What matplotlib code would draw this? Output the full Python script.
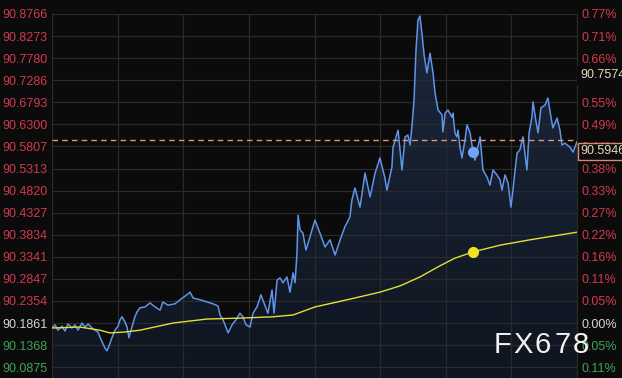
import matplotlib
matplotlib.use('Agg')
import matplotlib.pyplot as plt
import numpy as np
from matplotlib.patches import Polygon
from matplotlib.colors import LinearSegmentedColormap

plt.rcParams['font.family'] = ['Liberation Sans', 'DejaVu Sans']

# ---- data (hours since session start, price) ----
times = [0.00, 0.14, 0.27, 0.46, 0.59, 0.73, 0.91, 1.05, 1.19, 1.37, 1.51, 1.65, 1.83, 1.97,
         2.10, 2.19, 2.29, 2.42, 2.51, 2.61, 2.70, 2.79, 2.88, 3.02, 3.11, 3.20, 3.34, 3.43,
         3.52, 3.61, 3.79, 3.89, 4.02, 4.25, 4.48, 4.71, 4.94, 5.07, 5.30, 5.62, 5.85, 6.08,
         6.31, 6.45, 6.77, 7.09, 7.36, 7.59, 7.68, 7.82, 7.95, 8.05, 8.23, 8.41, 8.59, 8.73,
         8.87, 9.05, 9.19, 9.37, 9.55, 9.69, 9.87, 10.06, 10.15, 10.29, 10.42, 10.56, 10.74,
         10.88, 11.02, 11.11, 11.20, 11.25, 11.34, 11.47, 11.61, 11.79, 12.02, 12.25, 12.48,
         12.71, 12.94, 13.17, 13.39, 13.62, 13.71, 13.85, 14.08, 14.31, 14.54, 14.77, 14.99,
         15.22, 15.31, 15.54, 15.59, 15.82, 15.91, 16.00, 16.14, 16.27, 16.37, 16.46, 16.55,
         16.64, 16.73, 16.82, 16.91, 17.01, 17.14, 17.28, 17.42, 17.51, 17.65, 17.83, 17.87,
         17.97, 18.10, 18.29, 18.33, 18.42, 18.51, 18.56, 18.65, 18.74, 18.88, 18.97, 19.11,
         19.25, 19.34, 19.47, 19.57, 19.70, 19.89, 20.02, 20.16, 20.34, 20.48, 20.57, 20.71,
         20.85, 20.98, 21.07, 21.17, 21.26, 21.39, 21.53, 21.62, 21.71, 21.81, 21.94, 21.99,
         22.13, 22.22, 22.35, 22.54, 22.67, 22.81, 22.90, 23.09, 23.22, 23.31, 23.45, 23.68,
         23.82, 24.00]
prices = [90.175, 90.182, 90.170, 90.179, 90.168, 90.184, 90.175, 90.182, 90.170, 90.186,
          90.177, 90.184, 90.175, 90.170, 90.166, 90.155, 90.144, 90.130, 90.124, 90.135,
          90.148, 90.159, 90.170, 90.179, 90.193, 90.200, 90.188, 90.177, 90.153, 90.170,
          90.200, 90.211, 90.220, 90.222, 90.231, 90.222, 90.215, 90.233, 90.226, 90.229,
          90.238, 90.246, 90.255, 90.242, 90.238, 90.233, 90.229, 90.224, 90.204, 90.193,
          90.177, 90.164, 90.182, 90.193, 90.208, 90.200, 90.182, 90.177, 90.208, 90.222,
          90.249, 90.231, 90.208, 90.260, 90.208, 90.282, 90.287, 90.276, 90.289, 90.255,
          90.298, 90.276, 90.343, 90.427, 90.394, 90.387, 90.349, 90.378, 90.416, 90.387,
          90.356, 90.372, 90.338, 90.372, 90.401, 90.423, 90.461, 90.488, 90.445, 90.521,
          90.468, 90.521, 90.555, 90.510, 90.483, 90.535, 90.579, 90.617, 90.573, 90.528,
          90.602, 90.606, 90.584, 90.629, 90.684, 90.796, 90.863, 90.872, 90.834, 90.785,
          90.745, 90.789, 90.745, 90.700, 90.662, 90.651, 90.613, 90.655, 90.662, 90.646,
          90.655, 90.611, 90.602, 90.617, 90.579, 90.555, 90.595, 90.629, 90.611, 90.568,
          90.550, 90.579, 90.602, 90.528, 90.512, 90.494, 90.528, 90.517, 90.506, 90.483,
          90.517, 90.499, 90.445, 90.483, 90.528, 90.566, 90.573, 90.602, 90.566, 90.528,
          90.611, 90.646, 90.680, 90.635, 90.611, 90.667, 90.673, 90.689, 90.646, 90.622,
          90.644, 90.617, 90.584, 90.588, 90.579, 90.568, 90.591]

ma_times = [0.00, 1.28, 2.19, 2.65, 3.34, 4.02, 5.53, 7.09, 8.59, 10.10, 11.02, 12.02,
            13.49, 14.99, 15.91, 16.82, 17.74, 18.42, 19.25, 20.48, 21.85, 22.99, 24.00]
ma_values = [90.175, 90.177, 90.170, 90.164, 90.166, 90.170, 90.186, 90.195, 90.197,
             90.200, 90.204, 90.222, 90.238, 90.255, 90.269, 90.289, 90.314, 90.331,
             90.345, 90.360, 90.372, 90.381, 90.389]

left_ticks = [90.8766, 90.8273, 90.7780, 90.7286, 90.6793, 90.6300, 90.5807, 90.5313,
              90.4820, 90.4327, 90.3834, 90.3341, 90.2847, 90.2354, 90.1861, 90.1368, 90.0875]
left_labels = ['90.8766', '90.8273', '90.7780', '90.7286', '90.6793', '90.6300', '90.5807',
               '90.5313', '90.4820', '90.4327', '90.3834', '90.3341', '90.2847', '90.2354',
               '90.1861', '90.1368', '90.0875']
right_labels = ['0.77%', '0.71%', '0.66%', '0.60%', '0.55%', '0.49%', '0.44%', '0.38%',
                '0.33%', '0.27%', '0.22%', '0.16%', '0.11%', '0.05%', '0.00%', '0.05%', '0.11%']
base_price = 90.1861
last_price = 90.5946
last_label = '90.5946'
high_value = 90.7574
high_label = '90.7574'
marker_time = 19.25
watermark = 'FX678'

# ---- style ----
BG = '#0b0b0b'
RED = '#d23a4c'
GREEN = '#3fa35a'
NEUTRAL = '#d6d6d6'
GRID = '#2a2a2a'

ymin, ymax = 90.0632, 90.8766

fig = plt.figure(figsize=(6.22, 3.78), dpi=100)
fig.patch.set_facecolor(BG)
ax = fig.add_axes([52 / 622, 0.0, 525 / 622, 364 / 378])
ax.set_facecolor(BG)

# gradient fill under the price line
t_arr = np.array(times)
p_arr = np.array(prices)
verts = np.column_stack([np.r_[t_arr, t_arr[-1], t_arr[0]], np.r_[p_arr, ymin, ymin]])
poly = Polygon(verts, closed=True, facecolor='none', edgecolor='none')
ax.add_patch(poly)
cmap = LinearSegmentedColormap.from_list('fillgrad', ['#0f1520', '#1b283d'])
grad = np.linspace(0, 1, 256).reshape(-1, 1)
im = ax.imshow(grad, extent=[0, 24, ymin, ymax], origin='lower', aspect='auto',
               cmap=cmap, zorder=1, interpolation='bilinear')
im.set_clip_path(poly)
ax.set_xlim(0, 24)
ax.set_ylim(ymin, ymax)

ax.plot(times, prices, color='#5f94e8', lw=1.1, zorder=3)
ax.plot(ma_times, ma_values, color='#e4de3c', lw=1.0, zorder=3)
ax.plot([marker_time], [np.interp(marker_time, times, prices)], 'o', ms=7,
        color='#6fa5f2', zorder=5)
ax.plot([marker_time], [np.interp(marker_time, ma_times, ma_values)], 'o', ms=7,
        color='#f4e225', zorder=5)

ax.axhline(last_price, color='#e29472', lw=1.0, ls=(0, (4, 3)), zorder=4)

# grid and axes
ax.set_xticks(np.arange(0, 25, 3))
ax.set_yticks(left_ticks)
ax.set_yticklabels(left_labels)
ax.grid(True, color=GRID, lw=0.9, zorder=2)
ax.tick_params(axis='x', length=0, labelbottom=False)
ax.tick_params(axis='y', length=0, pad=3.5, labelsize=9)
for s in ['top', 'bottom']:
    ax.spines[s].set_visible(False)
for s in ['left', 'right']:
    ax.spines[s].set_color(GRID)

def label_color(v):
    if abs(v - base_price) < 1e-6:
        return NEUTRAL
    return RED if v > base_price else GREEN

for lab, v in zip(ax.get_yticklabels(), left_ticks):
    lab.set_color(label_color(v))

ax2 = ax.twinx()
ax2.set_ylim(ymin, ymax)
ax2.set_yticks(left_ticks)
ax2.set_yticklabels(right_labels)
ax2.tick_params(axis='y', length=0, pad=3, labelsize=9)
for s in ax2.spines.values():
    s.set_visible(False)
for lab, v in zip(ax2.get_yticklabels(), left_ticks):
    lab.set_color(label_color(v))

# right-side value boxes
ax2.annotate(last_label, xy=(1, last_price), xycoords=('axes fraction', 'data'),
             xytext=(2.3, -3.5), textcoords='offset points', ha='left', va='top',
             fontsize=9, color='#eadbb8', zorder=10, annotation_clip=False,
             bbox=dict(boxstyle='square,pad=0.2', fc=BG, ec='#d98672', lw=1.0))
ax2.annotate(high_label, xy=(1, high_value), xycoords=('axes fraction', 'data'),
             xytext=(2.3, -1.5), textcoords='offset points', ha='left', va='top',
             fontsize=9, color='#eadbb8', zorder=10, annotation_clip=False,
             bbox=dict(boxstyle='square,pad=0.25', fc=BG, ec='none'))

# watermark
char_x = [494, 513, 535, 554, 573]
for ch, xp in zip(watermark, char_x):
    fig.text(xp / 622, 25 / 378, ch, fontsize=21, color='#f2f2f2', ha='left',
             va='baseline', zorder=20)

fig.savefig('out.png', dpi=100, facecolor=BG)
